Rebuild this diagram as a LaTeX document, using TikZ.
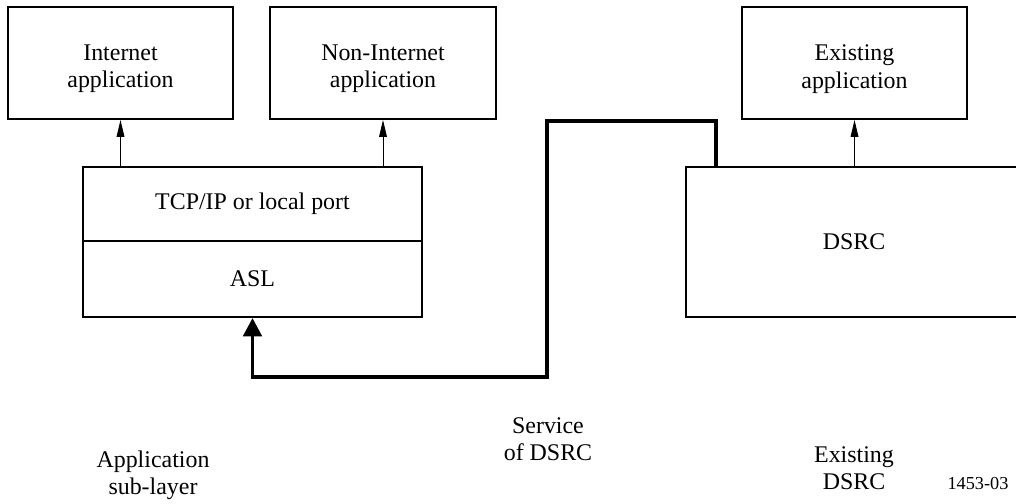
\documentclass[tikz,border=0pt]{standalone}
\usepackage{fontspec}
\setmainfont{Liberation Serif}
\usetikzlibrary{arrows.meta,calc}

\tikzset{
  unit/.style={x=0.025cm,y=-0.025cm},
  boxfont/.style={font=\fontsize{17}{19.5}\selectfont},
  appbox/.style={draw,line width=1.4pt,minimum width=5.625cm,minimum height=2.8cm},
  apptext/.style={boxfont,align=center},
  layerbox/.style={draw,line width=1.4pt,minimum width=8.475cm,boxfont},
  up/.style={line width=0.7pt,-{Triangle[length=12pt,width=5.5pt]}},
  service/.style={line width=2.8pt,-{Triangle[length=13pt,width=13pt]}},
  caption/.style={align=center,boxfont}
}

\begin{document}
\begin{tikzpicture}[unit]
\useasboundingbox (0,0) rectangle (1016,504);

% application boxes
\node[appbox] (inet) at (120.5,63) {};
\node[appbox] (noninet) at (383,63) {};
\node[appbox] (exist) at (854.5,63) {};
\node[apptext] (inettxt) at ($(inet)+(0,6)$) {Internet\\application};
\node[apptext] (noninettxt) at ($(noninet)+(0,6)$) {Non-Internet\\application};
\node[apptext] (existtxt) at ($(exist)+(0,6)$) {Existing\\application};

% layers
\node[layerbox,minimum height=1.85cm] (tcp) at (252.5,204) {TCP/IP or local port};
\node[layerbox,minimum height=1.9cm] (asl) at (252.5,279) {ASL};
\node[draw,line width=1.4pt,minimum width=8.4cm,minimum height=3.75cm,boxfont] (dsrc) at (854,242) {DSRC};

\draw[up] (inet.south |- tcp.north) -- (inet.south);
\draw[up] (noninet.south |- tcp.north) -- (noninet.south);
\draw[up] (exist.south |- dsrc.north) -- (exist.south);

% service of DSRC
\coordinate (dsrcin) at (716,167);
\coordinate (top) at (547,121);
\coordinate (bottom) at (547,377);
\draw[service,line join=miter] (dsrcin) |- (top) -- (bottom) -| (asl.south);

% captions
\node[caption] (aslcap) at (153,475) {Application\\sub-layer};
\node[caption] (servcap) at (548,439) {Service\\of DSRC};
\node[caption] (dsrccap) at (854,468) {Existing\\DSRC};
\node[font=\fontsize{13}{15}\selectfont] (fig) at (978,484) {1453-03};
\end{tikzpicture}
\end{document}
